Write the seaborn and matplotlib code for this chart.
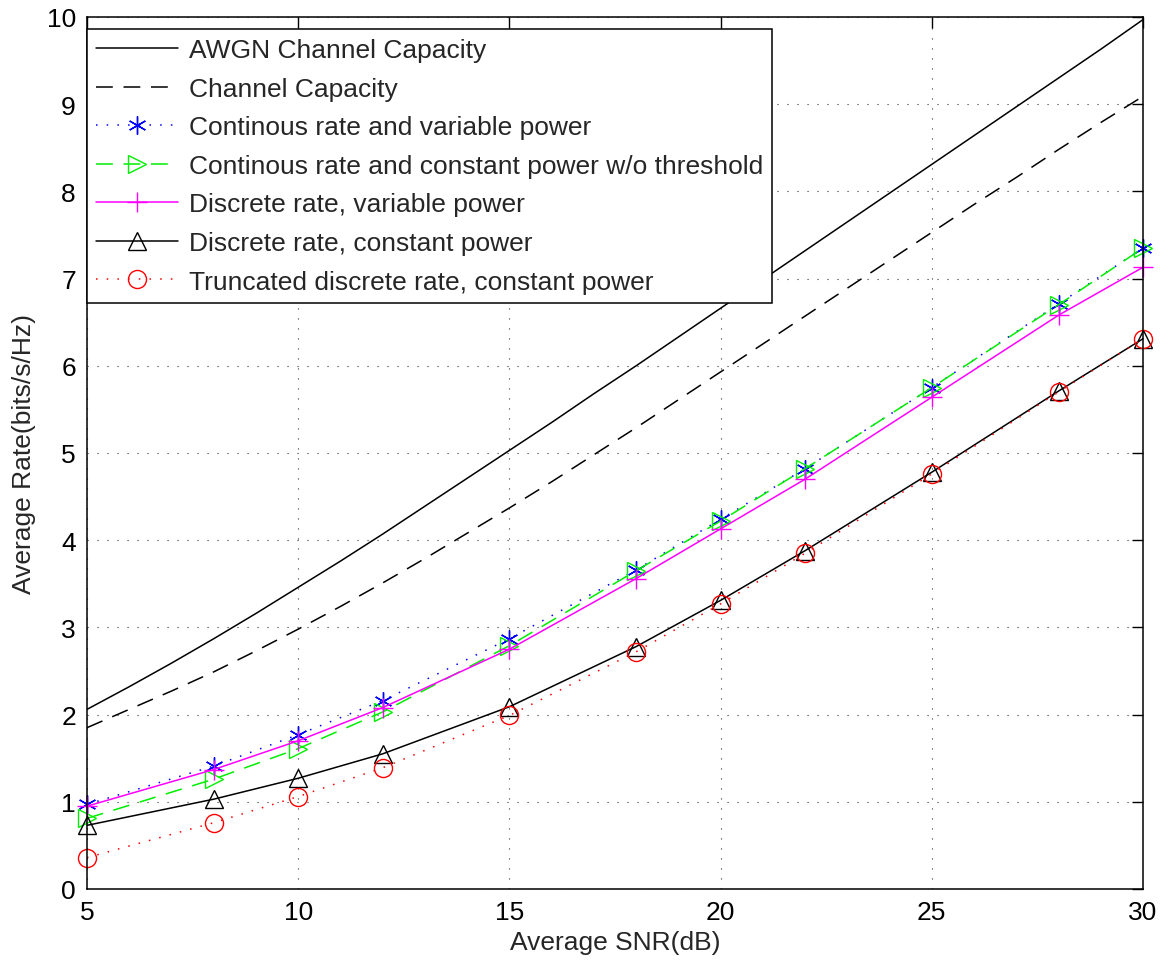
import numpy as np
import pandas as pd
import matplotlib
matplotlib.use("Agg")
import matplotlib.pyplot as plt
import seaborn as sns

# ---------------- data ----------------
snr_fine = [5, 6, 7, 8, 9, 10, 11, 12, 13, 14, 15, 16, 17, 18, 19, 20,
            21, 22, 23, 24, 25, 26, 27, 28, 29, 30]
awgn_capacity = [2.06, 2.32, 2.59, 2.87, 3.16, 3.46, 3.76, 4.07, 4.39, 4.71,
                 5.03, 5.35, 5.68, 6.00, 6.33, 6.66, 6.99, 7.32, 7.65, 7.98,
                 8.31, 8.64, 8.97, 9.30, 9.63, 9.97]
channel_capacity = [1.85, 2.06, 2.27, 2.49, 2.73, 2.98, 3.24, 3.51, 3.79, 4.08,
                    4.37, 4.67, 4.98, 5.29, 5.61, 5.93, 6.25, 6.57, 6.89, 7.21,
                    7.53, 7.85, 8.16, 8.48, 8.79, 9.09]

snr_pts = [5, 8, 10, 12, 15, 18, 20, 22, 25, 28, 30]
cont_var = [0.97, 1.41, 1.77, 2.16, 2.87, 3.66, 4.24, 4.82, 5.75, 6.71, 7.35]
cont_const = [0.81, 1.26, 1.61, 2.03, 2.79, 3.65, 4.22, 4.82, 5.75, 6.70, 7.35]
disc_var = [0.95, 1.37, 1.70, 2.08, 2.75, 3.56, 4.13, 4.70, 5.64, 6.58, 7.13]
disc_const = [0.73, 1.03, 1.27, 1.55, 2.09, 2.78, 3.31, 3.88, 4.78, 5.71, 6.31]
trunc_const = [0.36, 0.76, 1.06, 1.39, 1.99, 2.72, 3.27, 3.85, 4.76, 5.70, 6.31]

labels = ["AWGN Channel Capacity",
          "Channel Capacity",
          "Continous rate and variable power",
          "Continous rate and constant power w/o threshold",
          "Discrete rate, variable power",
          "Discrete rate, constant power",
          "Truncated discrete rate, constant power"]

x_ticks = [5, 10, 15, 20, 25, 30]
y_ticks = [0, 1, 2, 3, 4, 5, 6, 7, 8, 9, 10]
x_label = "Average SNR(dB)"
y_label = "Average Rate(bits/s/Hz)"

# ---------------- style ----------------
sns.set_theme(style="white")
plt.rcParams["font.family"] = ["Liberation Sans", "DejaVu Sans"]
plt.rcParams["axes.edgecolor"] = "black"
plt.rcParams["axes.linewidth"] = 1.1

fig = plt.figure(figsize=(11.7, 9.7), dpi=100)
ax = fig.add_axes([87 / 1170, 80 / 970, (1143 - 87) / 1170, (890 - 18) / 970])

fine_df = pd.DataFrame({"snr": snr_fine, "awgn": awgn_capacity, "cap": channel_capacity})
pts_df = pd.DataFrame({"snr": snr_pts, "cv": cont_var, "cc": cont_const,
                       "dv": disc_var, "dc": disc_const, "tc": trunc_const})

lw = 1.1
ms = 13
FS = 19
sns.lineplot(data=fine_df, x="snr", y="awgn", ax=ax, color="black", lw=lw,
             label=labels[0])
sns.lineplot(data=fine_df, x="snr", y="cap", ax=ax, color="black", lw=lw,
             linestyle=(0, (11, 7)), label=labels[1])
sns.lineplot(data=pts_df, x="snr", y="cv", ax=ax, color="blue", lw=lw,
             linestyle=(0, (1, 6)), marker=(6, 2, 0), markersize=ms,
             markeredgecolor="blue", markeredgewidth=1.0, label=labels[2],
             clip_on=False)
sns.lineplot(data=pts_df, x="snr", y="cc", ax=ax, color="#00ee00", lw=lw,
             linestyle=(0, (11, 7)), marker=">", markersize=ms,
             markerfacecolor="none", markeredgecolor="#00ee00",
             markeredgewidth=1.0, label=labels[3], clip_on=False)
sns.lineplot(data=pts_df, x="snr", y="dv", ax=ax, color="magenta", lw=lw,
             marker="+", markersize=ms + 2, markeredgecolor="magenta",
             markeredgewidth=1.0, label=labels[4], clip_on=False)
sns.lineplot(data=pts_df, x="snr", y="dc", ax=ax, color="black", lw=lw,
             marker="^", markersize=ms, markerfacecolor="none",
             markeredgecolor="black", markeredgewidth=1.0, label=labels[5],
             clip_on=False)
sns.lineplot(data=pts_df, x="snr", y="tc", ax=ax, color="red", lw=lw,
             linestyle=(0, (1, 6)), marker="o", markersize=ms,
             markerfacecolor="none", markeredgecolor="red",
             markeredgewidth=1.0, label=labels[6], clip_on=False)

ax.set_xlim(5, 30)
ax.set_ylim(0, 10)
ax.set_xticks(x_ticks)
ax.set_yticks(y_ticks)
ax.tick_params(direction="in", top=True, right=True, length=8, width=1,
               labelsize=FS, colors="black", pad=8)
ax.grid(True, color="black", linestyle=(0, (1, 8)), linewidth=0.8, alpha=0.8)
ax.set_xlabel(x_label, fontsize=FS, labelpad=4)
ax.set_ylabel(y_label, fontsize=FS, labelpad=8)
for s in ax.spines.values():
    s.set_visible(True)
    s.set_color("black")

leg = ax.legend(loc="upper left", bbox_to_anchor=(0.0, 0.986), fontsize=FS,
                frameon=True, fancybox=False, edgecolor="black",
                handlelength=3.1, handletextpad=0.4, borderpad=0.35,
                labelspacing=0.55, borderaxespad=0.0, framealpha=1)
leg.get_frame().set_linewidth(1.1)

fig.savefig("out.png", dpi=100)
